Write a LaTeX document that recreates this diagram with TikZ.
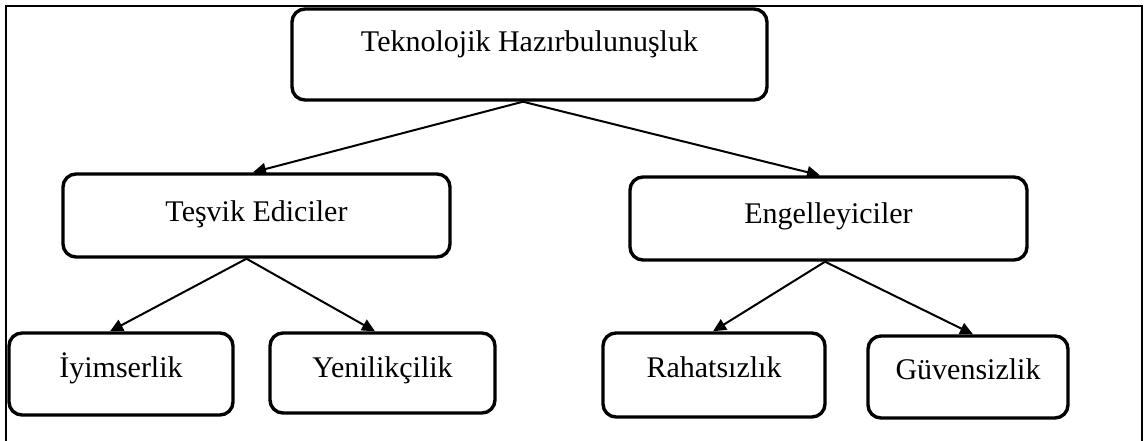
\documentclass[tikz,border=0pt]{standalone}
\usepackage{fontspec}
\setmainfont{Liberation Serif}
\usetikzlibrary{arrows.meta}
\begin{document}
\begin{tikzpicture}[x=1pt,y=-1pt,
  box/.style={draw, line width=3.4pt, rounded corners=13pt, inner sep=0pt},
  lbl/.style={font=\fontsize{30}{33}\selectfont, inner sep=0pt, anchor=base},
  conn/.style={line width=2pt, -{Triangle[length=13pt,width=12pt]}},
  frame/.style={line width=1.6pt}]
\useasboundingbox (0,0) rectangle (1145,441);
\draw[frame] (6,6) rectangle (1142,446);
% boxes
\node[box, minimum width=475pt, minimum height=91pt] (top) at (529.5,54.5) {};
\node[box, minimum width=387pt, minimum height=83pt] (tes) at (256.5,215.5) {};
\node[box, minimum width=397pt, minimum height=83pt] (eng) at (828.5,218.5) {};
\node[box, minimum width=224pt, minimum height=82pt] (iyi) at (121,374) {};
\node[box, minimum width=225pt, minimum height=80pt] (yen) at (382.5,373) {};
\node[box, minimum width=222pt, minimum height=84pt] (rah) at (714,375) {};
\node[box, minimum width=200pt, minimum height=82pt] (guv) at (968,377) {};
% labels
\node[lbl] (ttop) at (529.5,52) {Teknolojik Hazırbulunuşluk};
\node[lbl] (ttes) at (256.5,221) {Teşvik Ediciler};
\node[lbl] (teng) at (828.5,223) {Engelleyiciler};
\node[lbl] (tiyi) at (121,377) {İyimserlik};
\node[lbl] (tyen) at (382.5,377) {Yenilikçilik};
\node[lbl] (trah) at (714,377) {Rahatsızlık};
\node[lbl] (tguv) at (968,379) {Güvensizlik};
% connectors
\draw[conn] ([xshift=-6.5pt]top.south) -- ([xshift=-3.5pt]tes.north);
\draw[conn] ([xshift=-6.5pt]top.south) -- ([xshift=-8.5pt]eng.north);
\draw[conn] ([xshift=-10pt]tes.south) -- ([xshift=-11pt]iyi.north);
\draw[conn] ([xshift=-10pt]tes.south) -- ([xshift=-7.5pt]yen.north);
\draw[conn] ([xshift=-3.5pt]eng.south) -- ([xshift=-1pt]rah.north);
\draw[conn] ([xshift=-3.5pt]eng.south) -- ([xshift=5pt]guv.north);
\end{tikzpicture}
\end{document}
